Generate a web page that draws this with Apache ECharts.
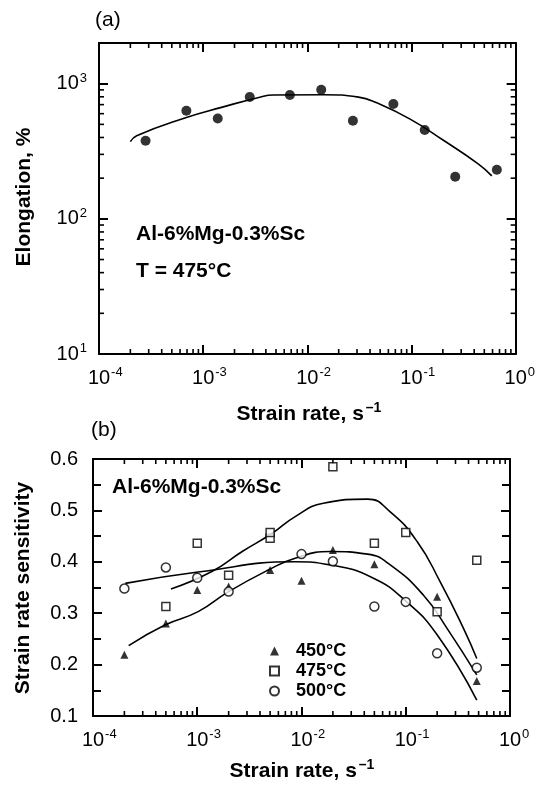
<!DOCTYPE html>
<html><head><meta charset="utf-8">
<script src="https://cdn.jsdelivr.net/npm/echarts@6/dist/echarts.min.js"></script>
<style>html,body{margin:0;padding:0;background:#fff}#c{width:538px;height:785px}</style>
</head><body><div id="c"></div>
<script>
// ---------- (a) Elongation vs strain rate, T = 475°C ----------
const aRate  = [2.8e-4, 6.9e-4, 1.38e-3, 2.8e-3, 6.8e-3, 1.36e-2, 2.74e-2, 6.7e-2, 0.134, 0.263, 0.66];
const aElong = [378, 631, 553, 796, 824, 903, 532, 708, 454, 205, 231];
const aFitRate  = [2.0e-4, 2.3e-4, 6.9e-4, 1.5e-3, 3.5e-3, 4.7e-3, 1.46e-2, 3.1e-2, 4.5e-2, 9.7e-2, 0.206, 0.44, 0.59];
const aFitElong = [372, 412, 562, 668, 794, 824, 829, 795, 728, 547, 378, 254, 208];
// ---------- (b) Strain rate sensitivity ----------
const b450Rate = [2e-4, 5e-4, 1e-3, 2e-3, 5e-3, 1e-2, 2e-2, 5e-2, 0.2, 0.48];
const b450M    = [0.219, 0.280, 0.345, 0.352, 0.384, 0.363, 0.423, 0.395, 0.332, 0.168];
const b475Rate = [5e-4, 1e-3, 2e-3, 5e-3, 5e-3, 2e-2, 5e-2, 0.1, 0.2, 0.48];
const b475M    = [0.313, 0.436, 0.374, 0.446, 0.457, 0.585, 0.436, 0.457, 0.303, 0.403];
const b500Rate = [2e-4, 5e-4, 1e-3, 2e-3, 1e-2, 2e-2, 5e-2, 0.1, 0.2, 0.48];
const b500M    = [0.348, 0.389, 0.369, 0.342, 0.415, 0.401, 0.313, 0.322, 0.222, 0.194];
const f450Rate = [2.2e-4, 4.9e-4, 1.02e-3, 2.0e-3, 4.8e-3, 8.7e-3, 1.88e-2, 4.3e-2, 7.1e-2, 0.148, 0.248, 0.48];
const f450M    = [0.237, 0.277, 0.303, 0.342, 0.384, 0.407, 0.420, 0.415, 0.394, 0.335, 0.271, 0.180];
const f475Rate = [5.6e-4, 1.38e-3, 2.7e-3, 5.2e-3, 8.7e-3, 1.62e-2, 4.3e-2, 7.1e-2, 0.129, 0.214, 0.357, 0.48];
const f475M    = [0.347, 0.381, 0.420, 0.455, 0.488, 0.514, 0.522, 0.497, 0.439, 0.361, 0.271, 0.212];
const f500Rate = [2.04e-4, 1.02e-3, 8.7e-3, 1.88e-2, 4.9e-2, 0.102, 0.2, 0.48];
const f500M    = [0.358, 0.380, 0.400, 0.394, 0.368, 0.322, 0.258, 0.131];
const legendNames = ['450°C', '475°C', '500°C'];
const alloy = 'Al-6%Mg-0.3%Sc';
const tempLabel = 'T = 475°C';
const xName = 'Strain rate, s';
const aYName = 'Elongation, %';
const bYName = 'Strain rate sensitivity';

const FONT = '"Liberation Sans", Arial, Helvetica, sans-serif';
const pair = (xs, ys) => xs.map((x, i) => [x, ys[i]]);
function minorVals(lo, hi, max) {
  const out = [];
  for (let k = lo; k < hi; k++) for (let m = 2; m <= 9; m++) { const v = m * Math.pow(10, k); if (v < max) out.push(v); }
  return out;
}
const xMinor = minorVals(-4, 0, 1);
const yMinorA = minorVals(1, 4, 2000);
const X_MIN = 1e-4, X_MAX = 1, A_MIN = 10, A_MAX = 2000, B_MIN = 0.1, B_MAX = 0.6;
const TICK_COLOR = '#000', MINOR_COLOR = '#000';
function xMinorRender(yMin, yMax, len) {
  return function (params, api) {
    const v = api.value(0);
    const b = api.coord([v, yMin]), t = api.coord([v, yMax]);
    return { type: 'group', children: [
      { type: 'line', shape: { x1: b[0], y1: b[1], x2: b[0], y2: b[1] - len }, style: { stroke: MINOR_COLOR, lineWidth: 1.6 } },
      { type: 'line', shape: { x1: t[0], y1: t[1], x2: t[0], y2: t[1] + len }, style: { stroke: MINOR_COLOR, lineWidth: 1.6 } }
    ] };
  };
}
function yMinorRender(xMin, xMax, len) {
  return function (params, api) {
    const v = api.value(1);
    const l = api.coord([xMin, v]), r = api.coord([xMax, v]);
    return { type: 'group', children: [
      { type: 'line', shape: { x1: l[0], y1: l[1], x2: l[0] + len, y2: l[1] }, style: { stroke: MINOR_COLOR, lineWidth: 1.6 } },
      { type: 'line', shape: { x1: r[0], y1: r[1], x2: r[0] - len, y2: r[1] }, style: { stroke: MINOR_COLOR, lineWidth: 1.6 } }
    ] };
  };
}
const supRich = {
  b: { fontFamily: FONT, fontSize: 20, lineHeight: 24, color: '#000' },
  s: { fontFamily: FONT, fontSize: 13, lineHeight: 12, verticalAlign: 'top', color: '#000', padding: [0, 0, 0, 1] },
  p: { fontFamily: FONT, fontSize: 13, lineHeight: 12, verticalAlign: 'top', color: 'rgba(0,0,0,0)', padding: [0, 1, 0, 0] }
};
const expOf = v => Math.log10(v);
const xLabelFmt = v => { const e = expOf(v); if (Math.abs(e - Math.round(e)) > 1e-6) return ''; const s = String(Math.round(e)); return '{p|' + s + '}{b|10}{s|' + s + '}'; };
const yLabelFmt = v => { const e = expOf(v); if (Math.abs(e - Math.round(e)) > 1e-6) return ''; return '{b|10}{s|' + Math.round(e) + '}'; };
function axisLine() { return { show: true, onZero: false, lineStyle: { color: '#000', width: 2 } }; }
function majorTick() { return { show: true, inside: true, length: 9, lineStyle: { color: TICK_COLOR, width: 2 } }; }
function minorTickV() { return { show: true, splitNumber: 2, length: 8, lineStyle: { color: MINOR_COLOR, width: 2 } }; }
function logX(gridIndex, position, showLabel) {
  return { type: 'log', logBase: 10, gridIndex, position, min: X_MIN, max: X_MAX,
    axisLine: axisLine(), axisTick: majorTick(), splitLine: { show: false },
    axisLabel: { show: showLabel, margin: 12, formatter: xLabelFmt, rich: supRich } };
}
const option = {
  animation: false, backgroundColor: '#fff', textStyle: { fontFamily: FONT },
  grid: [ { left: 99, right: 20, top: 43, height: 311 }, { left: 93, right: 28, top: 459, height: 257 } ],
  xAxis: [ logX(0, 'bottom', true), logX(0, 'top', false), logX(1, 'bottom', true), logX(1, 'top', false) ],
  yAxis: [
    { type: 'log', logBase: 10, gridIndex: 0, position: 'left', min: A_MIN, max: A_MAX,
      axisLine: axisLine(), axisTick: majorTick(), splitLine: { show: false },
      axisLabel: { show: true, margin: 12, formatter: yLabelFmt, rich: supRich } },
    { type: 'log', logBase: 10, gridIndex: 0, position: 'right', min: A_MIN, max: A_MAX,
      axisLine: axisLine(), axisTick: majorTick(), splitLine: { show: false }, axisLabel: { show: false } },
    { type: 'value', gridIndex: 1, position: 'left', min: B_MIN, max: B_MAX, interval: 0.1,
      axisLine: axisLine(), axisTick: majorTick(), splitLine: { show: false }, minorTick: minorTickV(),
      axisLabel: { show: true, margin: 15, fontSize: 20, color: '#000', fontFamily: FONT, formatter: v => v.toFixed(1) } },
    { type: 'value', gridIndex: 1, position: 'right', min: B_MIN, max: B_MAX, interval: 0.1,
      axisLine: axisLine(), axisTick: majorTick(), splitLine: { show: false }, minorTick: minorTickV(),
      axisLabel: { show: false } }
  ],
  legend: { orient: 'vertical', left: 264, top: 637, itemWidth: 9, itemHeight: 9, itemGap: 2, data: legendNames,
    textStyle: { fontFamily: FONT, fontSize: 18, fontWeight: 'bold', color: '#000', padding: [0, 0, 0, 12] } },
  series: [
    { type: 'custom', xAxisIndex: 0, yAxisIndex: 0, silent: true, clip: false, renderItem: xMinorRender(A_MIN, A_MAX, 5), data: xMinor.map(v => [v, A_MIN]) },
    { type: 'custom', xAxisIndex: 0, yAxisIndex: 0, silent: true, clip: false, renderItem: yMinorRender(X_MIN, X_MAX, 5), data: yMinorA.map(v => [X_MIN, v]) },
    { type: 'custom', xAxisIndex: 2, yAxisIndex: 2, silent: true, clip: false, renderItem: xMinorRender(B_MIN, B_MAX, 5), data: xMinor.map(v => [v, B_MIN]) },
    { name: 'fitA', type: 'line', xAxisIndex: 0, yAxisIndex: 0, smooth: 0.5, showSymbol: false, lineStyle: { color: '#000', width: 1.6 }, data: pair(aFitRate, aFitElong), z: 3 },
    { name: 'Elongation', type: 'scatter', xAxisIndex: 0, yAxisIndex: 0, symbol: 'circle', symbolSize: 10, itemStyle: { color: '#000' }, data: pair(aRate, aElong), z: 4 },
    { name: 'f450', type: 'line', xAxisIndex: 2, yAxisIndex: 2, smooth: 0.5, showSymbol: false, lineStyle: { color: '#000', width: 1.6 }, data: pair(f450Rate, f450M), z: 3 },
    { name: 'f475', type: 'line', xAxisIndex: 2, yAxisIndex: 2, smooth: 0.5, showSymbol: false, lineStyle: { color: '#000', width: 1.6 }, data: pair(f475Rate, f475M), z: 3 },
    { name: 'f500', type: 'line', xAxisIndex: 2, yAxisIndex: 2, smooth: 0.5, showSymbol: false, lineStyle: { color: '#000', width: 1.6 }, data: pair(f500Rate, f500M), z: 3 },
    { name: legendNames[0], type: 'scatter', xAxisIndex: 2, yAxisIndex: 2, symbol: 'triangle', symbolSize: 8, itemStyle: { color: '#000' }, data: pair(b450Rate, b450M), z: 4 },
    { name: legendNames[1], type: 'scatter', xAxisIndex: 2, yAxisIndex: 2, symbol: 'rect', symbolSize: 8, itemStyle: { color: '#fff', borderColor: '#000', borderWidth: 1.5 }, data: pair(b475Rate, b475M), z: 4 },
    { name: legendNames[2], type: 'scatter', xAxisIndex: 2, yAxisIndex: 2, symbol: 'circle', symbolSize: 9, itemStyle: { color: '#fff', borderColor: '#000', borderWidth: 1.5 }, data: pair(b500Rate, b500M), z: 4 }
  ],
  graphic: [
    { type: 'text', left: 95, top: 10, style: { text: '(a)', font: '21px ' + FONT, fill: '#000' } },
    { type: 'text', left: 91, top: 420, style: { text: '(b)', font: '21px ' + FONT, fill: '#000' } },
    { type: 'text', left: 136, top: 224, style: { text: alloy, font: 'bold 21px ' + FONT, fill: '#000' } },
    { type: 'text', left: 136, top: 261, style: { text: tempLabel, font: 'bold 21px ' + FONT, fill: '#000' } },
    { type: 'text', left: 112, top: 477, style: { text: alloy, font: 'bold 21px ' + FONT, fill: '#000' } },
    { type: 'text', x: 309, y: 414, style: { text: '{n|' + xName + '}{s|–1}', align: 'center', verticalAlign: 'middle',
        rich: { n: { font: 'bold 21px ' + FONT, fill: '#000', lineHeight: 26 }, s: { font: 'bold 14px ' + FONT, fill: '#000', verticalAlign: 'top', lineHeight: 14, padding: [0, 0, 0, 2] } } } },
    { type: 'text', x: 302, y: 771, style: { text: '{n|' + xName + '}{s|–1}', align: 'center', verticalAlign: 'middle',
        rich: { n: { font: 'bold 21px ' + FONT, fill: '#000', lineHeight: 26 }, s: { font: 'bold 14px ' + FONT, fill: '#000', verticalAlign: 'top', lineHeight: 14, padding: [0, 0, 0, 2] } } } },
    { type: 'text', x: 24, y: 197, rotation: Math.PI / 2, style: { text: aYName, font: 'bold 21px ' + FONT, fill: '#000', align: 'center', verticalAlign: 'middle' } },
    { type: 'text', x: 23, y: 588, rotation: Math.PI / 2, style: { text: bYName, font: 'bold 21px ' + FONT, fill: '#000', align: 'center', verticalAlign: 'middle' } }
  ]
};
const chart = echarts.init(document.getElementById('c'), null, { renderer: 'canvas' });
chart.setOption(option);
</script></body></html>
